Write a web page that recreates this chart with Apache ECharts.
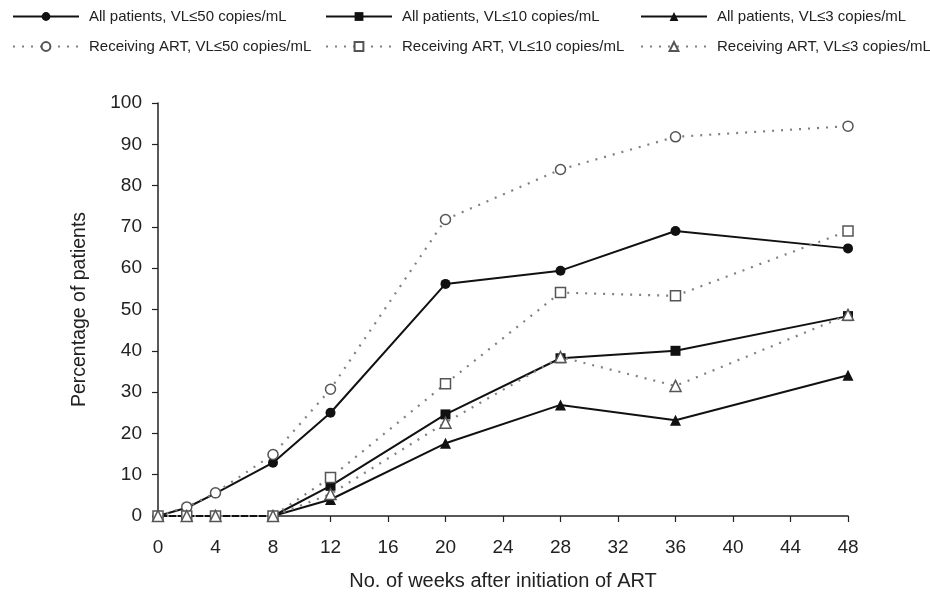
<!DOCTYPE html>
<html><head><meta charset="utf-8">
<script src="https://cdn.jsdelivr.net/npm/echarts@6/dist/echarts.min.js"></script>
<style>html,body{margin:0;padding:0;background:#fff}#c{width:930px;height:597px}</style>
</head><body><div id="c"></div>
<script>
const weeks = [0, 2, 4, 8, 12, 20, 28, 36, 48];
const allVL50 = [0, 2, 5.5, 12.9, 25.0, 56.2, 59.4, 69.0, 64.8];
const allVL10 = [0, 0, 0, 0, 7.3, 24.6, 38.2, 40.0, 48.4];
const allVL3 = [0, 0, 0, 0, 4.0, 17.6, 26.9, 23.2, 34.1];
const artVL50 = [0, 2.2, 5.6, 14.9, 30.7, 71.8, 83.9, 91.8, 94.4];
const artVL10 = [0, 0, 0, 0, 9.3, 32.0, 54.1, 53.3, 69.0];
const artVL3 = [0, 0, 0, 0, 5.3, 22.6, 38.5, 31.5, 48.7];
const seriesNames = [
  'All patients, VL\u226450 copies/mL', 'All patients, VL\u226410 copies/mL', 'All patients, VL\u22643 copies/mL',
  'Receiving ART, VL\u226450 copies/mL', 'Receiving ART, VL\u226410 copies/mL', 'Receiving ART, VL\u22643 copies/mL'
];
const yTicks = [0, 10, 20, 30, 40, 50, 60, 70, 80, 90, 100];
const xTicks = [0, 4, 8, 12, 16, 20, 24, 28, 32, 36, 40, 44, 48];

const FONT = 'Liberation Sans, Arial, sans-serif';
const values = [allVL50, allVL10, allVL3, artVL50, artVL10, artVL3];
const symbols = ['circle', 'rect', 'triangle', 'circle', 'rect', 'triangle'];
const sizes = [10, 10, 11, 10, 10, 11];

const series = values.map((v, i) => {
  const filled = i < 3;
  return {
    name: seriesNames[i],
    type: 'line',
    data: weeks.map((w, j) => [w, v[j]]),
    symbol: symbols[i],
    symbolSize: sizes[i],
    showAllSymbol: true,
    z: filled ? 3 : 4,
    lineStyle: filled ? {color: '#111', width: 2, type: 'solid'} : {color: '#808080', width: 2.2, type: [2, 7]},
    itemStyle: filled ? {color: '#111', borderColor: '#111', borderWidth: 0} : {color: '#fff', borderColor: '#555', borderWidth: 1.5},
    emphasis: {disabled: true},
    animation: false
  };
});

const colX = [7, 320, 635];
const rowY = [4, 34];
const legends = seriesNames.map((n, i) => ({
  data: [n],
  left: colX[i % 3],
  top: rowY[Math.floor(i / 3)],
  itemWidth: 66,
  itemHeight: 11,
  itemGap: 10,
  textStyle: {fontFamily: FONT, fontSize: 15, color: '#222', padding: [0, 0, 0, 5]},
  selectedMode: false
}));

const chart = echarts.init(document.getElementById('c'));
chart.setOption({
  backgroundColor: '#fff',
  animation: false,
  legend: legends,
  grid: {left: 158, right: 82, top: 103, bottom: 81, containLabel: false, outerBoundsMode: 'none'},
  xAxis: {
    type: 'value', min: xTicks[0], max: xTicks[xTicks.length - 1], interval: 4,
    name: 'No. of weeks after initiation of ART', nameLocation: 'middle', nameGap: 55,
    nameTextStyle: {fontFamily: FONT, fontSize: 20, color: '#222'},
    axisLine: {lineStyle: {color: '#222', width: 1.5}},
    axisTick: {show: true, length: 6, lineStyle: {color: '#222', width: 1.2}},
    axisLabel: {fontFamily: FONT, fontSize: 19, color: '#222', margin: 22},
    splitLine: {show: false}
  },
  yAxis: {
    type: 'value', min: yTicks[0], max: yTicks[yTicks.length - 1], interval: 10,
    name: 'Percentage of patients', nameLocation: 'middle', nameGap: 68, nameRotate: 90,
    nameTextStyle: {fontFamily: FONT, fontSize: 19.5, color: '#222'},
    axisLine: {show: true, lineStyle: {color: '#222', width: 1.5}},
    axisTick: {show: true, length: 6, lineStyle: {color: '#222', width: 1.2}},
    axisLabel: {fontFamily: FONT, fontSize: 19, color: '#222', margin: 16},
    splitLine: {show: false}
  },
  series: series
});
</script></body></html>
